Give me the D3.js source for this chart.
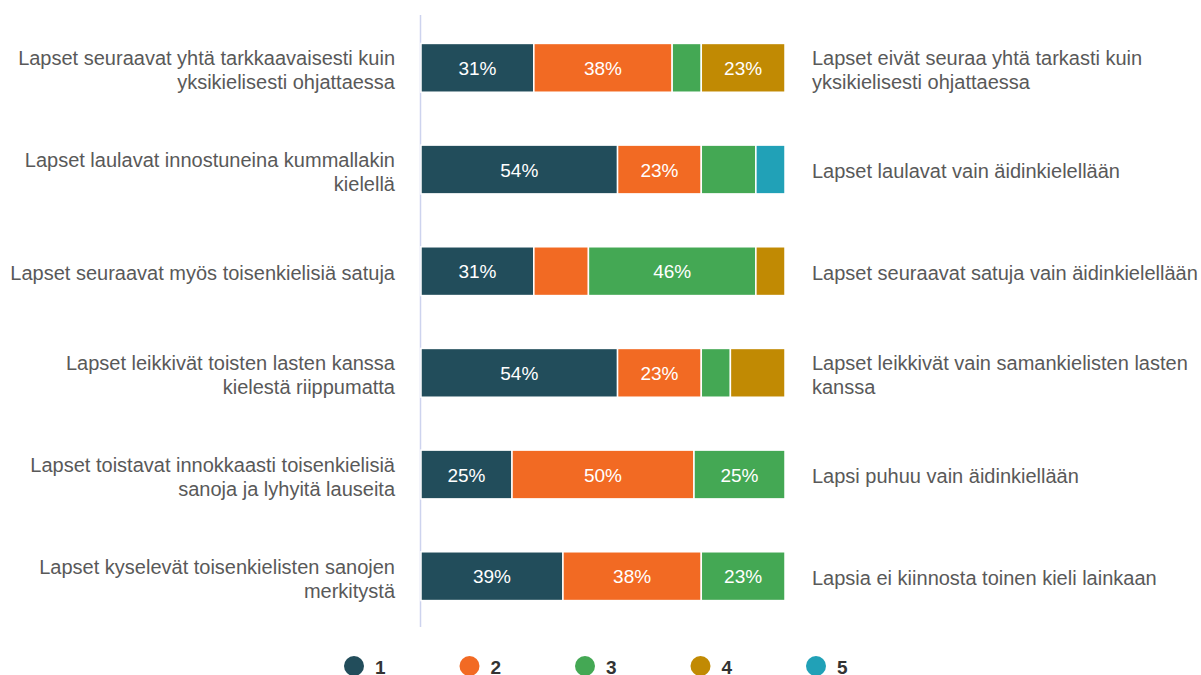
<!DOCTYPE html>
<html lang="fi">
<head>
  <meta charset="UTF-8">
  <title>Lapset ja kielet</title>
  <style>
    body { margin: 0; background: #fff; }
    svg { display: block; }
  </style>
</head>
<body>
  <svg id="svg" width="1201" height="675"></svg>

  <script src="https://d3js.org/d3.v7.min.js"></script>
  <script>
    // left (positive) and right (negative) statements, one row each
    const leftLabels = [
      'Lapset seuraavat yhtä tarkkaavaisesti kuin\nyksikielisesti ohjattaessa',
      'Lapset laulavat innostuneina kummallakin\nkielellä',
      'Lapset seuraavat myös toisenkielisiä satuja',
      'Lapset leikkivät toisten lasten kanssa\nkielestä riippumatta',
      'Lapset toistavat innokkaasti toisenkielisiä\nsanoja ja lyhyitä lauseita',
      'Lapset kyselevät toisenkielisten sanojen\nmerkitystä'
    ]
    const rightLabels = [
      'Lapset eivät seuraa yhtä tarkasti kuin\nyksikielisesti ohjattaessa',
      'Lapset laulavat vain äidinkielellään',
      'Lapset seuraavat satuja vain äidinkielellään',
      'Lapset leikkivät vain samankielisten lasten\nkanssa',
      'Lapsi puhuu vain äidinkiellään',
      'Lapsia ei kiinnosta toinen kieli lainkaan'
    ]

    const seriesNames = ['1', '2', '3', '4', '5']
    const s1 = [31, 54, 31, 54, 25, 39]
    const s2 = [38, 23, 15, 23, 50, 38]
    const s3 = [8, 15, 46, 8, 25, 23]
    const s4 = [23, 0, 8, 15, 0, 0]
    const s5 = [0, 8, 0, 0, 0, 0]

    const colors = ['#224d5b', '#f26a23', '#44a854', '#c18a03', '#21a1b7']

    const allSeries = [s1, s2, s3, s4, s5]
    const rows = leftLabels.map((l, i) => {
      const r = { idx: i }
      seriesNames.forEach((k, j) => { r[k] = allSeries[j][i] })
      return r
    })

    const stack = d3.stack().keys(seriesNames)(rows)

    const xScale = d3.scaleLinear()
      .domain([0, 100])
      .range([421, 785])

    const yScale = d3.scaleBand()
      .domain(d3.range(rows.length))
      .range([17, 627])
      .paddingInner(0.52)
      .paddingOuter(0.26)

    const colorScale = d3.scaleOrdinal()
      .domain(seriesNames)
      .range(colors)

    const svg = d3.select('#svg')
    const font = '"Liberation Sans", Arial, sans-serif'

    // vertical axis line
    svg.append('line')
      .attr('x1', 420.5).attr('x2', 420.5)
      .attr('y1', 15).attr('y2', 627)
      .attr('stroke', '#cdd3ee')
      .attr('stroke-width', 1.5)

    const layers = svg.selectAll('g.layer')
      .data(stack)
      .enter()
      .append('g')
      .attr('class', 'layer')
      .attr('fill', d => colorScale(d.key))

    layers.selectAll('rect')
      .data(d => d.filter(p => p[1] - p[0] > 0))
      .enter()
      .append('rect')
      .attr('x', d => xScale(d[0]))
      .attr('y', d => yScale(d.data.idx))
      .attr('width', d => xScale(d[1]) - xScale(d[0]))
      .attr('height', yScale.bandwidth())
      .attr('stroke', '#fff')
      .attr('stroke-width', 1.5)

    // value labels only on the bigger pieces
    layers.selectAll('text')
      .data(d => d.filter(p => p[1] - p[0] >= 20))
      .enter()
      .append('text')
      .text(d => (d[1] - d[0]) + '%')
      .attr('x', d => (xScale(d[0]) + xScale(d[1])) / 2)
      .attr('y', d => yScale(d.data.idx) + yScale.bandwidth() / 2 + 7)
      .attr('text-anchor', 'middle')
      .attr('fill', '#fff')
      .style('font-family', font)
      .style('font-size', '19px')

    // row labels on both sides
    function addLabels(labels, x, anchor) {
      const g = svg.append('g')
      labels.forEach((lab, i) => {
        const lines = lab.split('\n')
        const cy = yScale(i) + yScale.bandwidth() / 2
        const lh = 24
        const y0 = cy - (lines.length - 1) * lh / 2 + 7 + (lines.length > 1 ? 2.5 : 1.5)
        const t = g.append('text')
          .attr('text-anchor', anchor)
          .attr('fill', '#595959')
          .style('font-family', font)
          .style('font-size', '20px')
        lines.forEach((ln, k) => {
          t.append('tspan')
            .attr('x', x)
            .attr('y', y0 + k * lh)
            .text(ln)
        })
      })
    }
    addLabels(leftLabels, 395, 'end')
    addLabels(rightLabels, 812, 'start')

    // legend
    const legendX = d3.scalePoint()
      .domain(seriesNames)
      .range([354, 816])

    const leg = svg.append('g')
      .selectAll('g')
      .data(seriesNames)
      .enter()
      .append('g')
      .attr('transform', d => `translate(${legendX(d)},666)`)

    leg.append('circle')
      .attr('r', 10)
      .attr('fill', d => colorScale(d))

    leg.append('text')
      .text(d => d)
      .attr('x', 21)
      .attr('y', 8)
      .attr('fill', '#333')
      .style('font-family', font)
      .style('font-size', '19px')
      .style('font-weight', 'bold')
  </script>
</body>
</html>
